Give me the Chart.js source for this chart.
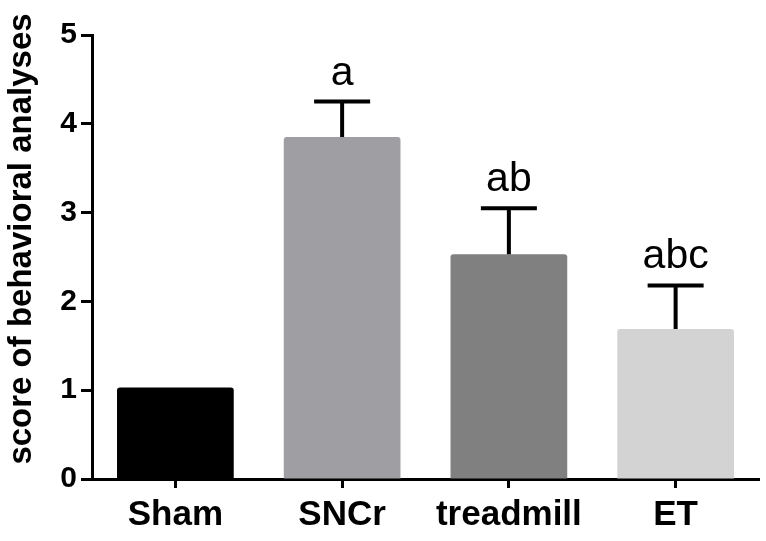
<!DOCTYPE html>
<html>
<head>
<meta charset="utf-8">
<script src="https://cdn.jsdelivr.net/npm/chart.js@4.4.1/dist/chart.umd.min.js"></script>
<style>
    html, body { margin: 0; padding: 0; background: #ffffff; }
    #wrap { width: 766px; height: 541px; }
</style>
</head>
<body>
<div id="wrap"><canvas id="chart"></canvas></div>
<script>
// values
const groups = ['Sham', 'SNCr', 'treadmill', 'ET'];
const scores = [1.03, 3.85, 2.53, 1.69];
const errors = [0, 0.40, 0.52, 0.49];
const letters = ['', 'a', 'ab', 'abc'];
const barColors = ['#000000', '#9e9ea3', '#808080', '#d3d3d3'];
const yTicks = [0, 1, 2, 3, 4, 5];
const yTitle = 'score of behavioral analyses';

const FONT = '"Liberation Sans", Arial, sans-serif';

// draws the SEM bars, the significance letters and the y title
const errorBarPlugin = {
    id: 'errorBars',
    afterDatasetsDraw(chart) {
        const ctx = chart.ctx;
        const meta = chart.getDatasetMeta(0);
        const y = chart.scales.y;
        ctx.save();
        ctx.strokeStyle = '#000';
        ctx.lineWidth = 4;
        meta.data.forEach((bar, i) => {
            const top = y.getPixelForValue(scores[i] + errors[i]);
            if (errors[i] > 0) {
                ctx.beginPath();
                ctx.moveTo(bar.x, bar.y);
                ctx.lineTo(bar.x, top);
                ctx.moveTo(bar.x - 28, top);
                ctx.lineTo(bar.x + 28, top);
                ctx.stroke();
            }
            if (letters[i]) {
                ctx.fillStyle = '#000';
                ctx.font = '41px ' + FONT;
                ctx.textAlign = 'center';
                ctx.textBaseline = 'alphabetic';
                ctx.fillText(letters[i], bar.x, top - 17);
            }
        });

        // axis title, a little above the axis middle as in the original
        ctx.translate(22, 239);
        ctx.rotate(-Math.PI / 2);
        ctx.fillStyle = '#000';
        ctx.font = 'bold 33px ' + FONT;
        ctx.textAlign = 'center';
        ctx.textBaseline = 'middle';
        ctx.fillText(yTitle, 0, 0);
        ctx.restore();
    }
};

new Chart(document.getElementById('chart'), {
    type: 'bar',
    data: {
        labels: groups,
        datasets: [{
            data: scores,
            backgroundColor: barColors,
            borderRadius: 3,
            borderSkipped: 'bottom',
            categoryPercentage: 1.0,
            barPercentage: 0.70
        }]
    },
    options: {
        responsive: true,
        maintainAspectRatio: false,
        animation: false,
        layout: { padding: { top: 35, right: 7, left: 0, bottom: 0 } },
        plugins: {
            legend: { display: false },
            tooltip: { enabled: false }
        },
        scales: {
            x: {
                grid: {
                    display: true,
                    offset: false,
                    drawOnChartArea: false,
                    drawTicks: true,
                    tickLength: 9,
                    tickWidth: 3,
                    color: '#000'
                },
                border: { display: true, color: '#000', width: 3 },
                ticks: {
                    color: '#000',
                    padding: 6,
                    font: { family: FONT, size: 35, weight: 'bold' }
                },
                afterFit(scale) { scale.height = 62; }
            },
            y: {
                min: 0,
                max: 5,
                afterBuildTicks(scale) {
                    scale.ticks = yTicks.map(v => ({ value: v }));
                },
                grid: {
                    display: true,
                    drawOnChartArea: false,
                    drawTicks: true,
                    tickLength: 11,
                    tickWidth: 3,
                    color: '#000'
                },
                border: { display: true, color: '#000', width: 3 },
                ticks: {
                    color: '#000',
                    padding: 4,
                    font: { family: FONT, size: 30, weight: 'bold' }
                },
                afterFit(scale) { scale.width = 92; }
            }
        }
    },
    plugins: [errorBarPlugin]
});
</script>
</body>
</html>
